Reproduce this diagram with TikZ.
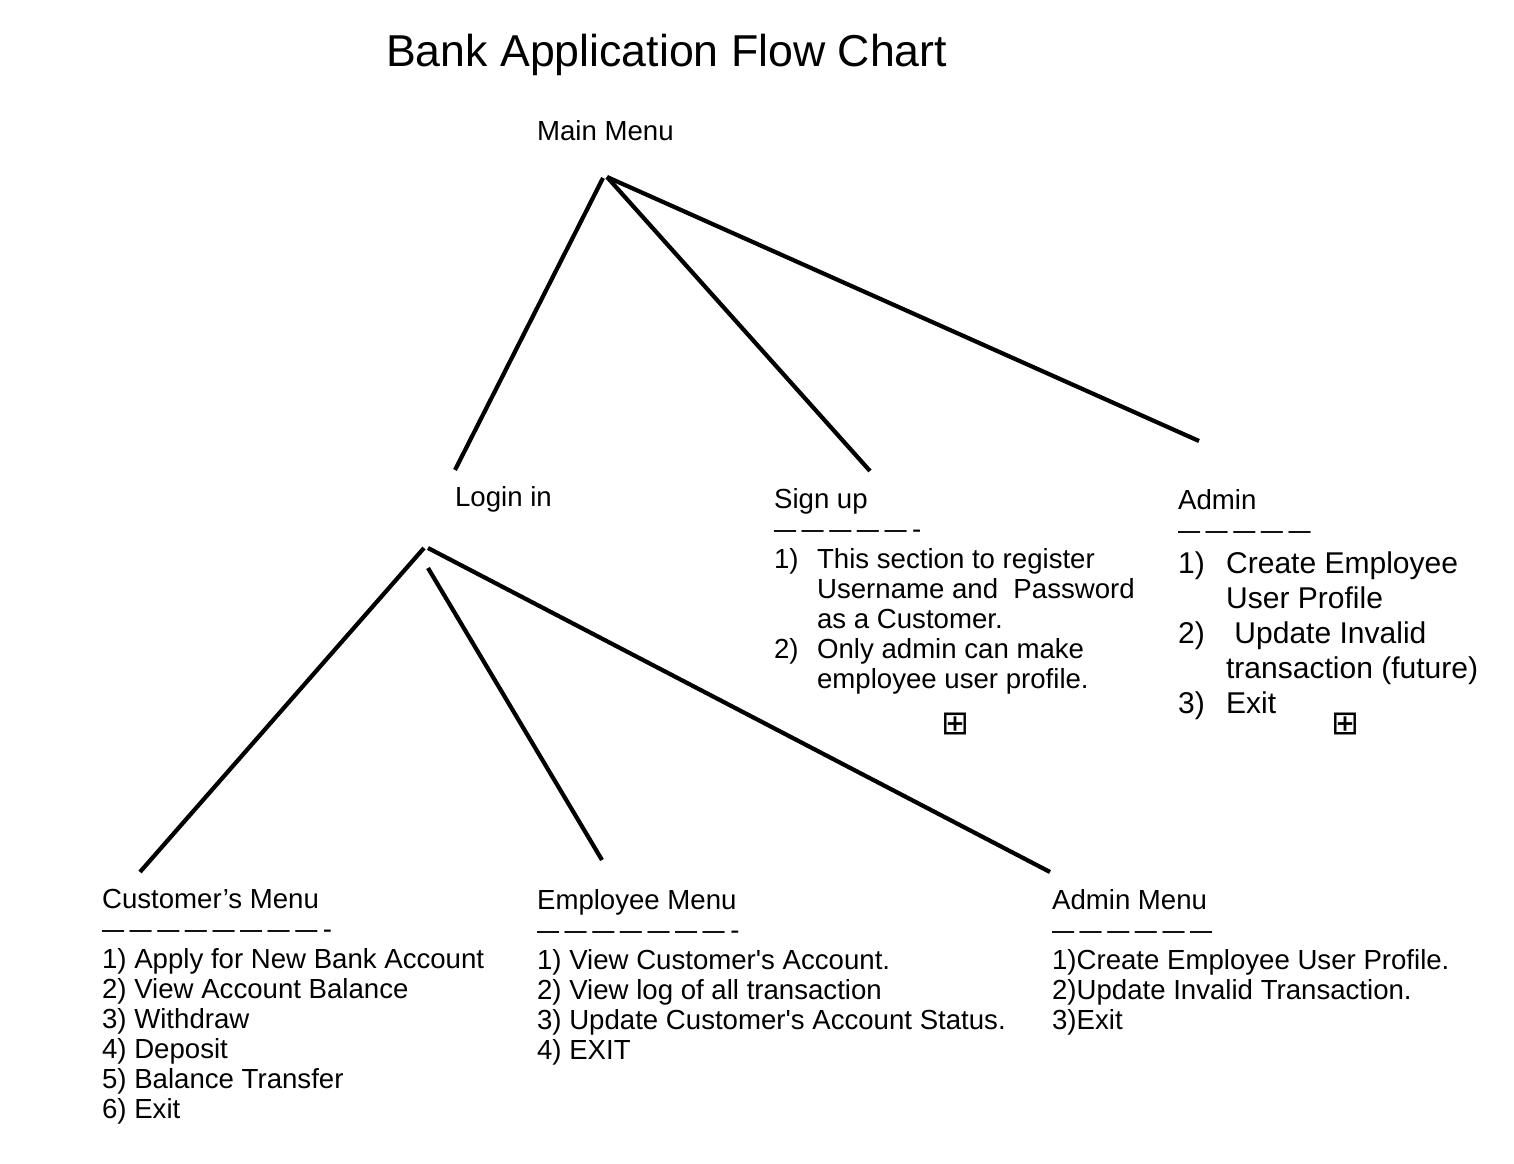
\documentclass[tikz,border=0pt]{standalone}
\usepackage{fontspec}
\setmainfont{Liberation Sans}
\newfontfamily\symfont{DejaVu Sans}
\usepackage{graphicx}
\usepackage{tikz}
\usetikzlibrary{positioning}

\newcommand{\dsh}{\makebox[1em][l]{\scalebox{0.8}[1]{—}}}
\newcommand{\itemno}[2]{\makebox[#1][l]{#2}}

\begin{document}
\begin{tikzpicture}[x=0.01cm,y=-0.01cm,line width=1.2pt,
  every node/.style={inner sep=0pt},
  txt/.style={font=\fontsize{7.85}{8.54}\selectfont,align=left,anchor=north west},
  big/.style={font=\fontsize{8.54}{9.96}\selectfont,align=left,anchor=north west}]
\useasboundingbox (0,0) rectangle (1514,1164);

%\node[draw] (Box) {};
\node[anchor=base west,font=\fontsize{12.7}{15}\selectfont] (Title) at (384,67) {Bank Application Flow Chart};
\node[txt,anchor=base west] (Main) at (535,141) {Main Menu};
\node[txt,anchor=base west] (Login) at (453,507) {Login in};

\node[txt] (SignUp) at (772,486) {Sign up\\
\dsh\dsh\dsh\dsh\dsh-\\
\itemno{0.43cm}{1)}This section to register\\
\hspace{0.43cm}Username and~ Password\\
\hspace{0.43cm}as a Customer.\\
\itemno{0.43cm}{2)}Only admin can make\\
\hspace{0.43cm}employee user profile.};

\node[txt] (Admin) at (1176,487) {Admin\\ \dsh\dsh\dsh\dsh\dsh};
\node[big] (AdminList) at (1176,550) {\itemno{0.48cm}{1)}Create Employee\\
\hspace{0.48cm}User Profile\\
\itemno{0.48cm}{2)}~Update Invalid\\
\hspace{0.48cm}transaction (future)\\
\itemno{0.48cm}{3)}Exit};

\node[font=\symfont\fontsize{9.5}{10}\selectfont] (PlusA) at (955,724) {⊞};
\node[font=\symfont\fontsize{9.5}{10}\selectfont] (PlusB) at (1345,724) {⊞};

\node[txt] (Customer) at (100,887) {Customer’s Menu\\
\dsh\dsh\dsh\dsh\dsh\dsh\dsh\dsh-\\
1) Apply for New Bank Account\\
2) View Account Balance\\
3) Withdraw\\
4) Deposit\\
5) Balance Transfer\\
6) Exit};

\node[txt] (Employee) at (535,887) {Employee Menu\\
\dsh\dsh\dsh\dsh\dsh\dsh\dsh-\\
1) View Customer\textquotesingle s Account.\\
2) View log of all transaction\\
3) Update Customer\textquotesingle s Account Status.\\
4) EXIT};

\node[txt] (AdminMenu) at (1050,887) {Admin Menu\\
\dsh\dsh\dsh\dsh\dsh\dsh\\
1)Create Employee User Profile.\\
2)Update Invalid Transaction.\\
3)Exit};

\coordinate (Main-l) at (603,178);
\coordinate (Main-r) at (607,177);
\coordinate (Login-top) at (455,470);
\coordinate (SignUp-top) at (870,471);
\coordinate (Admin-top) at (1199,441);
\coordinate (Login-l) at (424,548);
\coordinate (Login-m) at (428,568);
\coordinate (Login-r) at (428,548);
\coordinate (Customer-top) at (140,872);
\coordinate (Employee-top) at (602,860);
\coordinate (AdminMenu-top) at (1050,872);

\path[draw] (Main-l) edge (Login-top)
            (Main-r) edge (SignUp-top)
                     edge (Admin-top);
\path[draw] (Login-l) edge (Customer-top)
            (Login-m) edge (Employee-top)
            (Login-r) edge (AdminMenu-top);
\end{tikzpicture}
\end{document}
